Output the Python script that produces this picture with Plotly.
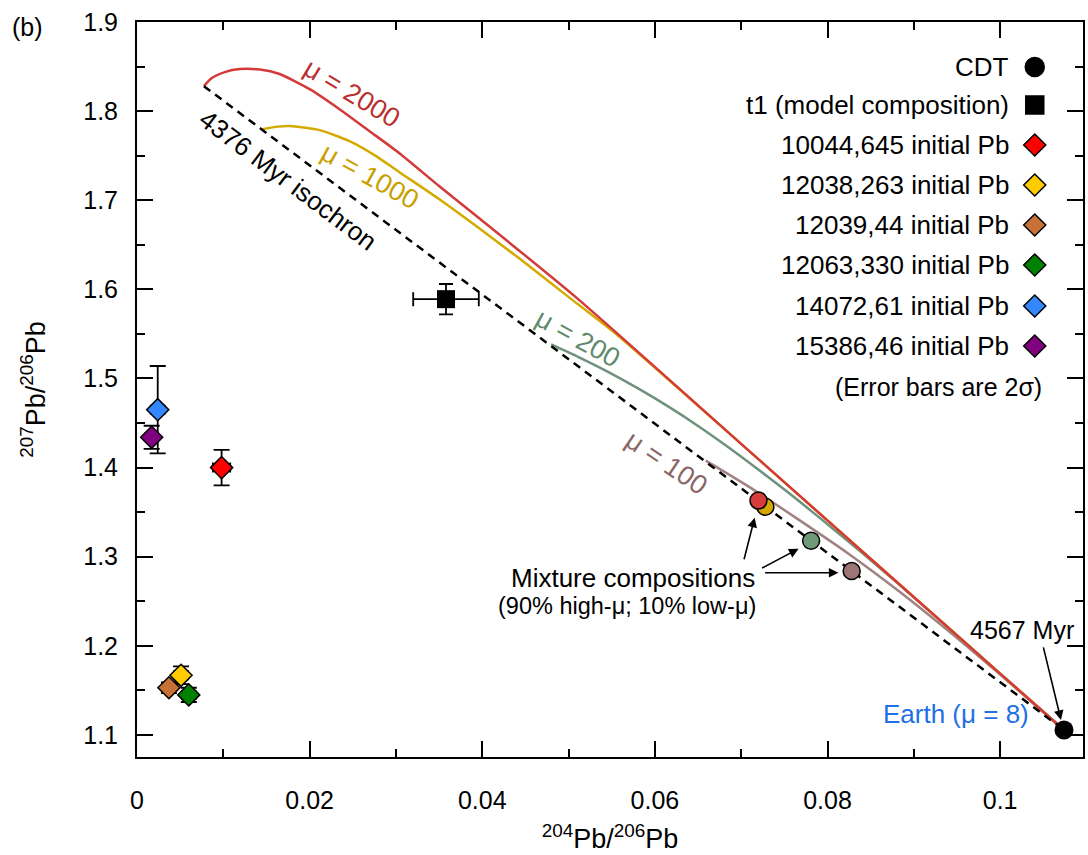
import plotly.graph_objects as go

# ---------------- data ----------------
# Lunar sample initial Pb (diamonds)
samp_names = ["10044,645 initial Pb", "12038,263 initial Pb", "12039,44 initial Pb",
              "12063,330 initial Pb", "14072,61 initial Pb", "15386,46 initial Pb"]
samp_colors = ["#ff0000", "#ffcc00", "#c87137", "#008000", "#3388ff", "#800080"]
samp_x = [0.0098, 0.0051, 0.0037, 0.0060, 0.0024, 0.0017]
samp_y = [1.400, 1.167, 1.153, 1.145, 1.465, 1.434]
samp_ex = [0.0010, 0.0008, 0.0005, 0.0008, 0.0008, 0.0007]
samp_ey = [0.020, 0.010, 0.006, 0.008, 0.049, 0.013]

# CDT and t1 model composition
cdt_x, cdt_y = [0.1074], [1.1056]
t1_x, t1_y = [0.0358], [1.589]
t1_ex, t1_ey = [0.0038], [0.017]

# mixture compositions (circles): mu=1000, 200, 100, 2000
mix_x = [0.0728, 0.0781, 0.0828, 0.0720]
mix_y = [1.356, 1.318, 1.284, 1.363]
mix_colors = ["#d4a800", "#6f9a7a", "#9c7676", "#d63c3c"]

# 4376 Myr isochron
iso_x = [0.00775, 0.1074]
iso_y = [1.828, 1.1056]

# mu growth curves
mu2000_x = [0.00775, 0.00867, 0.01017, 0.01191, 0.01422, 0.01653, 0.02000, 0.02347,
            0.02694, 0.03040, 0.03503, 0.03965, 0.05087, 0.07087, 0.09977, 0.1074]
mu2000_y = [1.8281, 1.8371, 1.8438, 1.8472, 1.8466, 1.8416, 1.8247, 1.8022,
            1.7775, 1.7528, 1.7157, 1.6798, 1.5910, 1.4191, 1.1708, 1.1056]
mu1000_x = [0.01457, 0.01630, 0.01803, 0.02116, 0.02462, 0.02751, 0.03040, 0.03503,
            0.03965, 0.04428, 0.05006, 0.05584, 0.07087, 0.09977, 0.1074]
mu1000_y = [1.7798, 1.7826, 1.7831, 1.7787, 1.7663, 1.7506, 1.7315, 1.7011,
            1.6685, 1.6348, 1.5910, 1.5472, 1.4191, 1.1708, 1.1056]
mu200_x = [0.04798, 0.05121, 0.05468, 0.05815, 0.06162, 0.06509, 0.06855, 0.07202,
           0.07549, 0.07896, 0.08243, 0.08590, 0.08936, 0.09283, 0.09977, 0.1074]
mu200_y = [1.5382, 1.5237, 1.5069, 1.4883, 1.4681, 1.4462, 1.4226, 1.3976,
           1.3717, 1.3447, 1.3171, 1.2888, 1.2598, 1.2304, 1.1708, 1.1056]
mu100_x = [0.06590, 0.07087, 0.07665, 0.08243, 0.08821, 0.09399, 0.09977, 0.1074]
mu100_y = [1.4079, 1.3787, 1.3416, 1.3034, 1.2618, 1.2169, 1.1697, 1.1056]
earth_x = [0.1030, 0.1074]
earth_y = [1.1426, 1.1056]

# legend rows
leg_labels = ["CDT", "t1 (model composition)"] + samp_names
leg_symbols = ["circle", "square"] + ["diamond"] * 6
leg_colors = ["#000000", "#000000"] + samp_colors
leg_ypx = [67, 105, 145, 185, 225, 265, 306, 346]

FONT = "Liberation Sans, Arial, sans-serif"
SPL = dict(shape="spline", smoothing=0.6)

fig = go.Figure()

# curves
fig.add_trace(go.Scatter(x=earth_x, y=earth_y, mode="lines", line=dict(color="#1e6ee8", width=2.5), showlegend=False))
fig.add_trace(go.Scatter(x=mu100_x, y=mu100_y, mode="lines", line=dict(color="#a08282", width=2.5, **SPL), showlegend=False))
fig.add_trace(go.Scatter(x=mu200_x, y=mu200_y, mode="lines", line=dict(color="#6e927c", width=2.5, **SPL), showlegend=False))
fig.add_trace(go.Scatter(x=mu1000_x, y=mu1000_y, mode="lines", line=dict(color="#d4aa00", width=2.5, **SPL), showlegend=False))
fig.add_trace(go.Scatter(x=mu2000_x, y=mu2000_y, mode="lines", line=dict(color="#d43a3a", width=2.5, **SPL), showlegend=False))
fig.add_trace(go.Scatter(x=iso_x, y=iso_y, mode="lines", line=dict(color="black", width=2.5, dash="8px,6px"), showlegend=False))

# mixture circles
fig.add_trace(go.Scatter(x=mix_x, y=mix_y, mode="markers",
                         marker=dict(symbol="circle", size=17, color=mix_colors, opacity=1,
                                     line=dict(color="black", width=1.5)),
                         showlegend=False))

# t1
fig.add_trace(go.Scatter(x=t1_x, y=t1_y, mode="markers",
                         marker=dict(symbol="square", size=18, color="black", opacity=1),
                         error_x=dict(type="data", array=t1_ex, color="black", thickness=1.8, width=7),
                         error_y=dict(type="data", array=t1_ey, color="black", thickness=1.8, width=7),
                         showlegend=False))

# samples
fig.add_trace(go.Scatter(x=samp_x, y=samp_y, mode="markers",
                         marker=dict(symbol="diamond", size=17, color=samp_colors, opacity=1,
                                     line=dict(color="black", width=1.5)),
                         error_x=dict(type="data", array=samp_ex, color="black", thickness=1.8, width=5),
                         error_y=dict(type="data", array=samp_ey, color="black", thickness=1.8, width=8),
                         showlegend=False))

# CDT
fig.add_trace(go.Scatter(x=cdt_x, y=cdt_y, mode="markers",
                         marker=dict(symbol="circle", size=19, color="black", opacity=1), showlegend=False))

# manual legend markers on overlay axes (paper-like 0..1)
leg_y = [(757 - p) / 735 for p in leg_ypx]
fig.add_trace(go.Scatter(x=[0.949] * len(leg_y), y=leg_y, mode="markers", xaxis="x2", yaxis="y2",
                         marker=dict(symbol=leg_symbols, size=[19, 18] + [17] * 6, color=leg_colors, opacity=1,
                                     line=dict(color="black", width=1.5)),
                         showlegend=False, hoverinfo="skip"))

annotations = []
for lab_txt, yy in zip(leg_labels, leg_y):
    annotations.append(dict(x=0.924, y=yy, xref="paper", yref="paper", text=lab_txt, showarrow=False,
                            xanchor="right", yanchor="middle", font=dict(size=26, color="black", family=FONT)))
annotations.append(dict(x=0.959, y=(757 - 387) / 735, xref="paper", yref="paper", text="(Error bars are 2σ)",
                        showarrow=False, xanchor="right", yanchor="middle", font=dict(size=25, color="black", family=FONT)))
annotations.append(dict(x=-0.116, y=0.993, xref="paper", yref="paper", text="(b)", showarrow=False,
                        xanchor="center", yanchor="middle", font=dict(size=25, color="black", family=FONT)))

def lab(text, x, y, color, angle=0, size=26):
    annotations.append(dict(x=x, y=y, xref="x", yref="y", text=text, showarrow=False, textangle=angle,
                            xanchor="center", yanchor="middle", font=dict(size=size, color=color, family=FONT)))

lab("μ = 2000", 0.02486, 1.8205, "#b8302f", 31, 27)
lab("μ = 1000", 0.02694, 1.7275, "#c9a000", 29, 27)
lab("4376 Myr isochron", 0.01746, 1.7225, "black", 37, 26)
lab("μ = 200", 0.05098, 1.5449, "#5f8a6c", 29, 27)
lab("μ = 100", 0.06139, 1.4056, "#8a6666", 34, 27)
lab("Mixture compositions", 0.05745, 1.2764, "black", 0, 26)
lab("(90% high-μ; 10% low-μ)", 0.05676, 1.2449, "black", 0, 23.5)
lab("4567 Myr", 0.10254, 1.218, "black", 0, 25)
lab("Earth (μ = 8)", 0.09491, 1.1236, "#1f6fe5", 0, 26)

def arrow(x, y, ax, ay):
    annotations.append(dict(x=x, y=y, ax=ax, ay=ay, xref="x", yref="y", axref="x", ayref="y", text="",
                            showarrow=True, arrowhead=2, arrowsize=1.2, arrowwidth=1.6, arrowcolor="black"))

arrow(0.07156, 1.3438, 0.07029, 1.2955)
arrow(0.07665, 1.309, 0.07225, 1.2865)
arrow(0.08127, 1.282, 0.0726, 1.282)
arrow(0.10705, 1.1169, 0.10497, 1.200)

x_ticks = [0, 0.02, 0.04, 0.06, 0.08, 0.1]
x_ticktext = ["0", "0.02", "0.04", "0.06", "0.08", "0.1"]
y_ticks = [1.1, 1.2, 1.3, 1.4, 1.5, 1.6, 1.7, 1.8, 1.9]
y_ticktext = ["1.1", "1.2", "1.3", "1.4", "1.5", "1.6", "1.7", "1.8", "1.9"]

fig.update_layout(
    width=1088, height=855,
    margin=dict(l=137, r=3, t=22, b=98),
    paper_bgcolor="white", plot_bgcolor="white",
    font=dict(family=FONT, size=25, color="black"),
    annotations=annotations,
    xaxis=dict(range=[0, 0.1096], tickvals=x_ticks, ticktext=x_ticktext, ticks="inside", ticklen=16,
               tickwidth=1.5, tickcolor="black", showline=True, linecolor="black", linewidth=2, mirror="ticks",
               showgrid=False, zeroline=False, ticklabelstandoff=20,
               minor=dict(dtick=0.01, tick0=0, ticks="inside", ticklen=8, tickwidth=1.5, tickcolor="black"),
               title=dict(text="<sup>204</sup>Pb/<sup>206</sup>Pb", font=dict(size=27), standoff=16),
               tickfont=dict(size=25)),
    yaxis=dict(range=[1.0753, 1.9], tickvals=y_ticks, ticktext=y_ticktext, ticks="inside", ticklen=16,
               tickwidth=1.5, tickcolor="black", showline=True, linecolor="black", linewidth=2, mirror="ticks",
               showgrid=False, zeroline=False, ticklabelstandoff=12,
               minor=dict(dtick=0.05, tick0=1.05, ticks="inside", ticklen=8, tickwidth=1.5, tickcolor="black"),
               title=dict(text="<sup>207</sup>Pb/<sup>206</sup>Pb", font=dict(size=27), standoff=30),
               tickfont=dict(size=25)),
    xaxis2=dict(range=[0, 1], overlaying="x", visible=False, fixedrange=True),
    yaxis2=dict(range=[0, 1], overlaying="y", visible=False, fixedrange=True),
    showlegend=False,
)

fig.write_html("out.html", config={"displayModeBar": False},
               post_script="document.body.style.margin='0';")
